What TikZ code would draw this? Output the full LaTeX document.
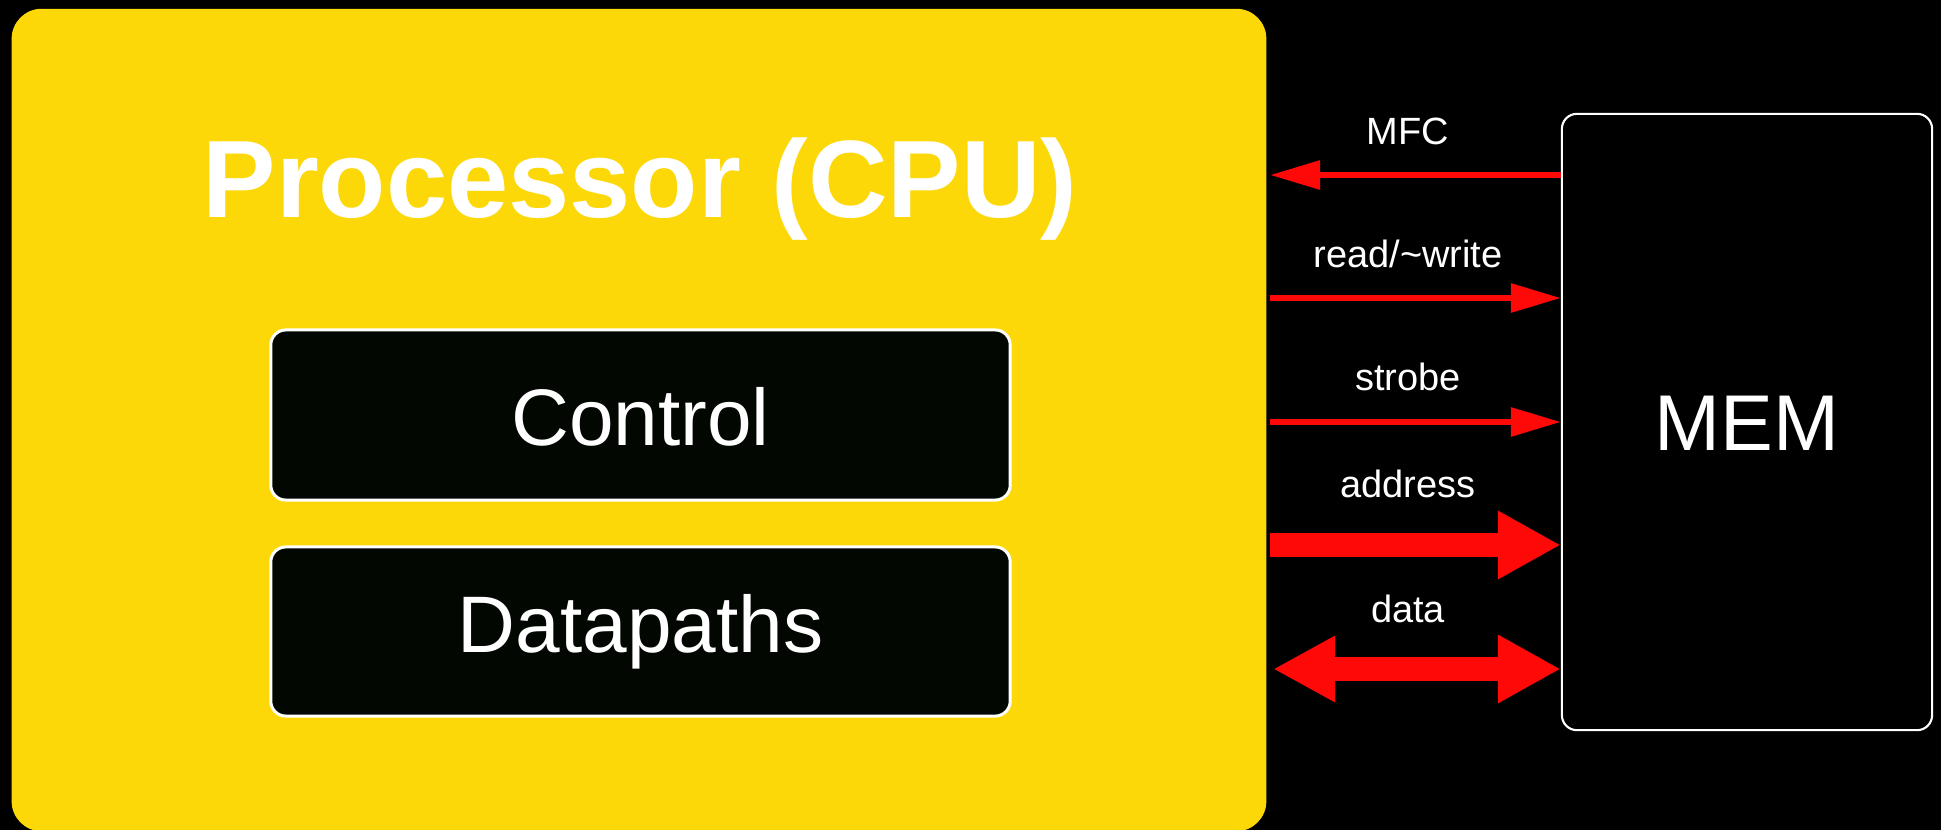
\documentclass[tikz,border=0pt]{standalone}
\usepackage{fontspec}
\setmainfont{Liberation Sans}
\usetikzlibrary{arrows.meta}
\definecolor{cpuyellow}{RGB}{253,216,8}
\definecolor{sigred}{RGB}{255,8,8}
\definecolor{boxblack}{RGB}{2,7,2}
\tikzset{
  cpubox/.style={fill=cpuyellow, draw=none, rounded corners=0.3cm, inner sep=0pt},
  subbox/.style={fill=boxblack, draw=white, line width=0.85pt, rounded corners=0.15cm, inner sep=0pt},
  membox/.style={fill=black, draw=white, line width=0.6pt, rounded corners=0.15cm, inner sep=0pt,
                 font=\fontsize{22.5}{27}\selectfont, text=white, text height=16.1pt, text depth=0pt},
  titletext/.style={font=\fontsize{31.3}{36}\selectfont\bfseries, text=white, inner sep=0pt, anchor=base},
  subtext/.style={font=\fontsize{22.8}{27}\selectfont, text=white, inner sep=0pt, anchor=base},
  sigtext/.style={font=\fontsize{10.8}{13}\selectfont, text=white, inner sep=0pt, anchor=base},
  thinsig/.style={draw=sigred, line width=1.7pt, -{Triangle[length=0.5cm, width=0.28cm]}},
  thicksig/.style={draw=sigred, line width=7.1pt, -{Triangle[length=0.63cm, width=0.64cm]}},
  bothsig/.style={draw=sigred, line width=7.1pt, {Triangle[length=0.62cm, width=0.62cm]}-{Triangle[length=0.63cm, width=0.64cm]}}
}
\begin{document}
\begin{tikzpicture}[x=0.01cm, y=-0.01cm]
  \useasboundingbox (0,0) rectangle (1941,830);
  \fill[black] (0,0) rectangle (1941,830);

  % Processor box
  \node[cpubox, minimum width=12.54cm, minimum height=8.22cm] (cpu) at (639,420) {};
  \node[titletext] (title) at (640,217) {Processor (CPU)};

  % Control and Datapaths
  \node[subbox, minimum width=7.39cm, minimum height=1.70cm] (control) at (640.5,415) {};
  \node[subtext] (controltext) at (640.5,445) {Control};
  \node[subbox, minimum width=7.39cm, minimum height=1.69cm] (datapaths) at (640.5,631.5) {};
  \node[subtext] (datapathstext) at (640.5,652) {Datapaths};

  % Memory
  \node[membox, minimum width=3.70cm, minimum height=6.16cm] (mem) at (1747,422) {MEM};

  % Signals
  \draw[thinsig] (mem.west |- 0,175) -- ([xshift=0.03cm]cpu.east |- 0,175);
  \node[sigtext] (mfc) at (1408,144) {MFC};

  \draw[thinsig] ([xshift=0.03cm]cpu.east |- 0,298) -- (mem.west |- 0,298);
  \node[sigtext] (rw) at (1408,267) {read/\textasciitilde write};

  \draw[thinsig] ([xshift=0.03cm]cpu.east |- 0,422) -- (mem.west |- 0,422);
  \node[sigtext] (strobe) at (1408,390) {strobe};

  \draw[thicksig] ([xshift=0.03cm]cpu.east |- 0,545) -- (mem.west |- 0,545);
  \node[sigtext] (address) at (1408,497) {address};

  \draw[bothsig] ([xshift=0.06cm]cpu.east |- 0,669) -- (mem.west |- 0,669);
  \node[sigtext] (data) at (1408,622) {data};
\end{tikzpicture}
\end{document}
